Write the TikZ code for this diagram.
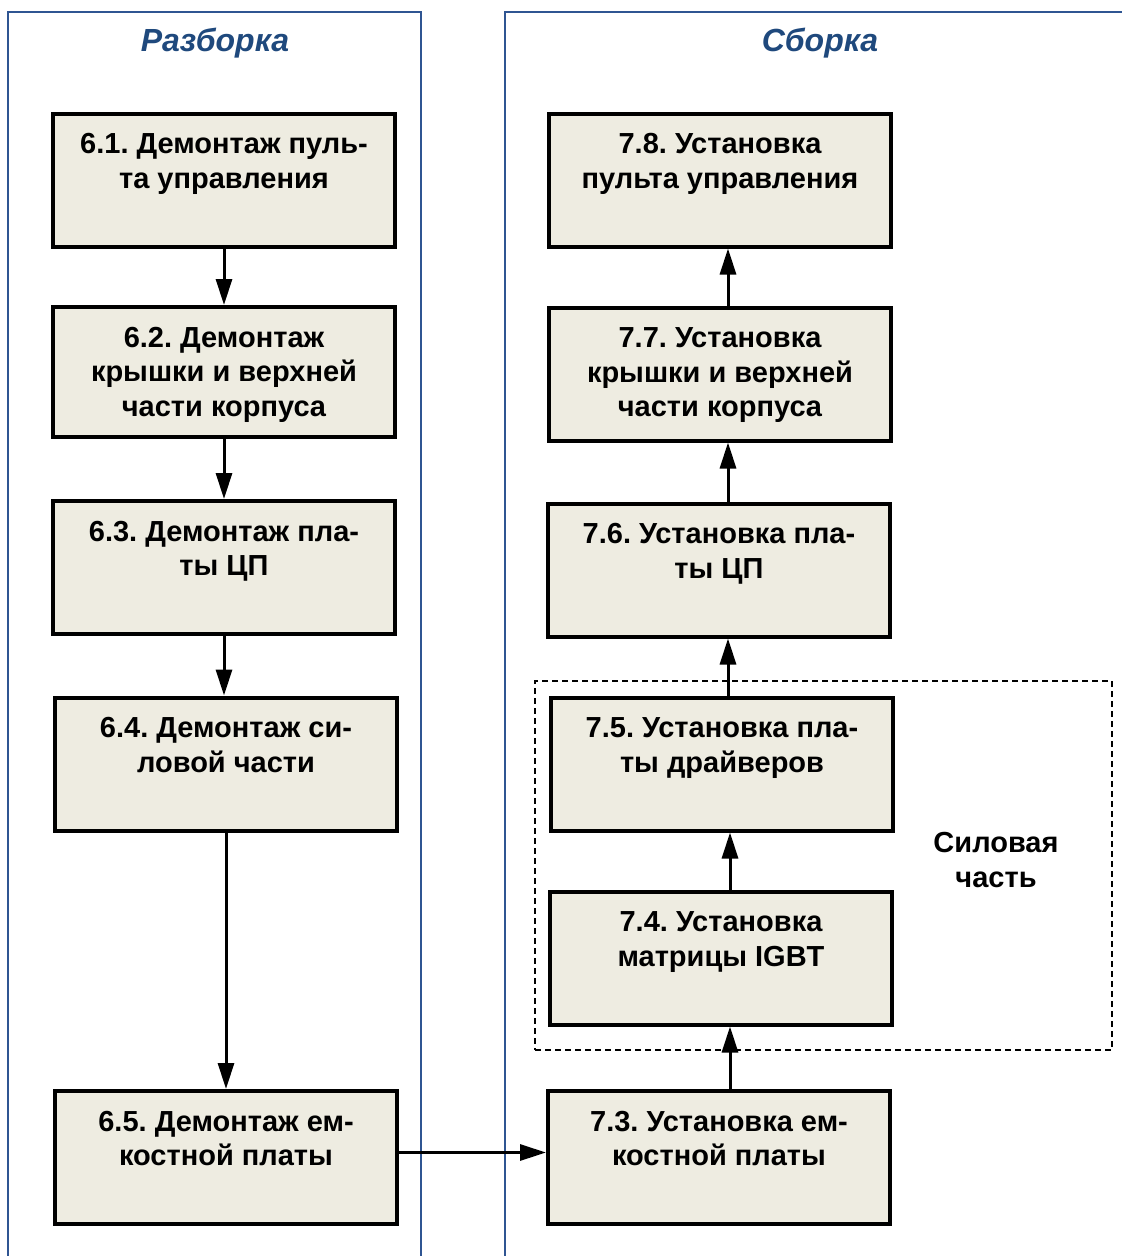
\documentclass[tikz,border=0pt]{standalone}
\usepackage{fontspec}
\setmainfont{Liberation Sans}
\usetikzlibrary{arrows.meta,calc}
\frenchspacing
\definecolor{boxfill}{HTML}{EEECE1}
\definecolor{panelline}{HTML}{2F5592}
\definecolor{titleblue}{HTML}{1F497D}
\newcommand{\boxtext}[2]{\parbox[c][#1pt][t]{336pt}{\centering\rule{0pt}{40pt}#2}}
\tikzset{
  stepbox/.style={draw=black, line width=4pt, fill=boxfill, rectangle, inner sep=0pt,
    minimum width=342pt, font=\fontsize{29}{34.5}\selectfont\bfseries},
  arr/.style={line width=3pt, -{Triangle[length=26pt,width=16pt]}},
  panel/.style={draw=panelline, line width=2.2pt},
  paneltitle/.style={text=titleblue, font=\fontsize{32}{36}\selectfont\bfseries\itshape},
  groupbox/.style={draw=black, line width=1.5pt, dash pattern=on 6pt off 4pt, rectangle, inner sep=0pt}
}
\begin{document}
\begin{tikzpicture}[x=1pt,y=-1pt]
\useasboundingbox[fill=white] (0,0) rectangle (1122,1256);
% panels
\draw[panel] (8,1260) -- (8,12) -- (421,12) -- (421,1260);
\draw[panel] (505,1260) -- (505,12) -- (1130,12);
\node[paneltitle] (tl) at (215,43) {Разборка};
\node[paneltitle] (tr) at (820,43) {Сборка};
% group
\node[groupbox, minimum width=577pt, minimum height=369pt] (grp) at (823.5,865.5) {};
\node[font=\fontsize{29}{34.5}\selectfont\bfseries, align=center] (grplabel) at (996,860) {Силовая\\часть};
% left boxes
\node[stepbox] (b61) at (224,180) {\boxtext{133}{6.1. Демонтаж пуль-\\та управления}};
\node[stepbox] (b62) at (224,372) {\boxtext{130}{6.2. Демонтаж\\крышки и верхней\\части корпуса}};
\node[stepbox] (b63) at (224,567.5) {\boxtext{133}{6.3. Демонтаж пла-\\ты ЦП}};
\node[stepbox] (b64) at (226,764) {\boxtext{133}{6.4. Демонтаж си-\\ловой части}};
\node[stepbox] (b65) at (226,1157.5) {\boxtext{133}{6.5. Демонтаж ем-\\костной платы}};
% right boxes
\node[stepbox] (b78) at (720,180) {\boxtext{133}{7.8. Установка\\пульта управления}};
\node[stepbox] (b77) at (720,374) {\boxtext{133}{7.7. Установка\\крышки и верхней\\части корпуса}};
\node[stepbox] (b76) at (719,570) {\boxtext{133}{7.6. Установка пла-\\ты ЦП}};
\node[stepbox] (b75) at (722,764) {\boxtext{133}{7.5. Установка пла-\\ты драйверов}};
\node[stepbox] (b74) at (721,958) {\boxtext{133}{7.4. Установка\\матрицы IGBT}};
\node[stepbox] (b73) at (719,1157.5) {\boxtext{133}{7.3. Установка ем-\\костной платы}};
% left arrows
\draw[arr] (b61.south) -- (b62.north);
\draw[arr] (b62.south) -- (b63.north);
\draw[arr] (b63.south) -- (b63.south |- b64.north);
\draw[arr] (b64.south) -- (b65.north);
\draw[arr] ($(b65.east)+(0,-5)$) -- ($(b73.west)+(0,-5)$);
% right arrows
\draw[arr] ($(b73.north)+(11,0)$) -- ($(b74.south)+(9,0)$);
\draw[arr] ($(b74.north)+(9,0)$) -- ($(b75.south)+(8,0)$);
\draw[arr] ($(b75.north)+(6,0)$) -- ($(b76.south)+(9,0)$);
\draw[arr] ($(b76.north)+(9,0)$) -- ($(b77.south)+(8,0)$);
\draw[arr] ($(b77.north)+(8,0)$) -- ($(b78.south)+(8,0)$);
\end{tikzpicture}
\end{document}
